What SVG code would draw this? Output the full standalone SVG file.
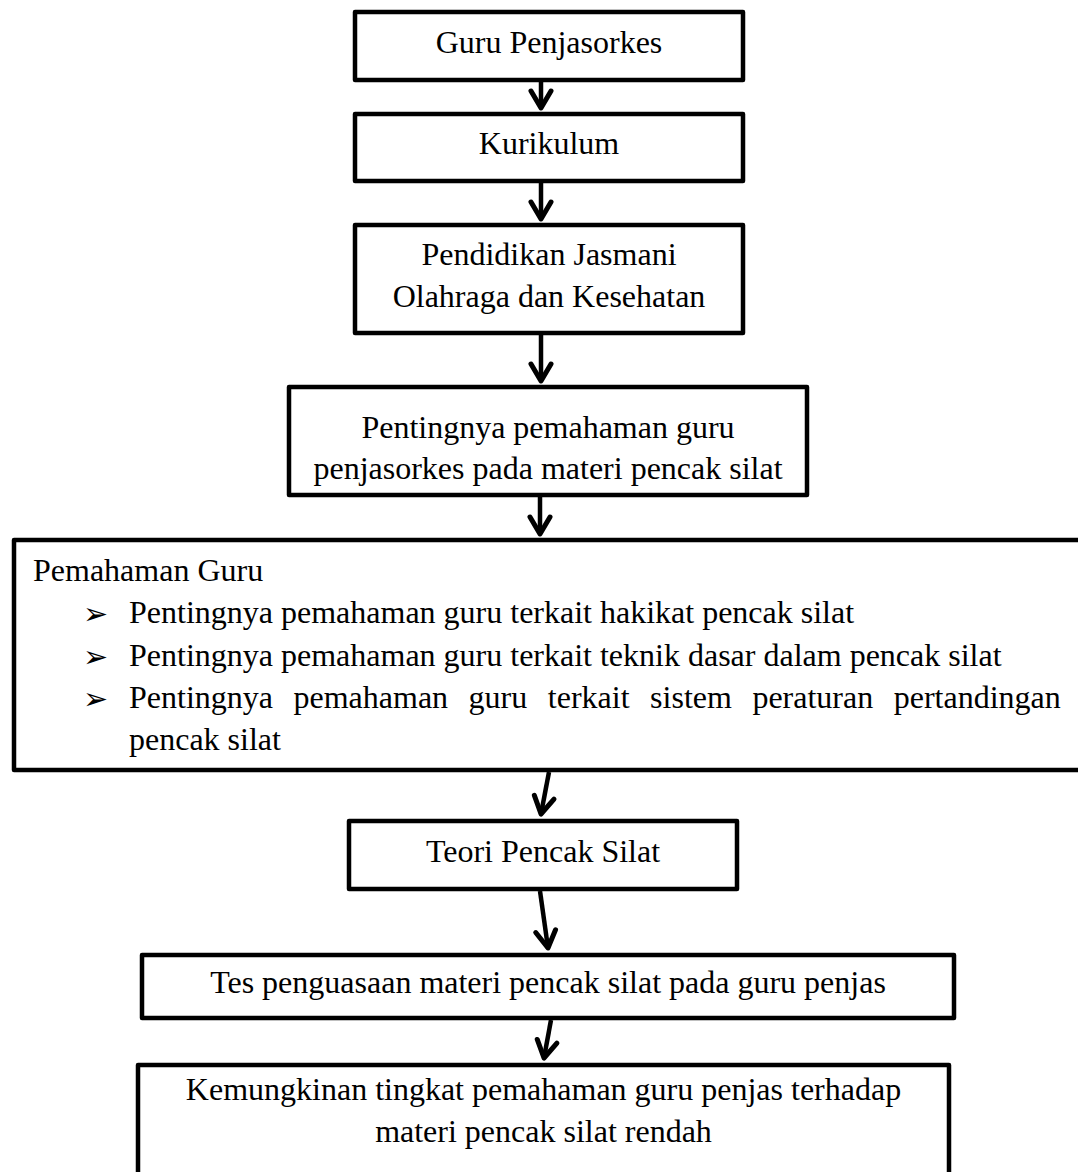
<svg xmlns="http://www.w3.org/2000/svg" width="1078" height="1172" viewBox="0 0 1078 1172">
<style>
.box{fill:#fff;stroke:#000;stroke-width:4.5;stroke-linejoin:round}
.t{font-family:"Liberation Serif","Times New Roman",serif;font-size:32px;fill:#000}
.c{text-anchor:middle}
.b{font-family:"DejaVu Sans",sans-serif;font-size:30px;fill:#000}
.con{stroke:#000;stroke-width:4.5;fill:none}
</style>
<defs>
<marker id="ah" markerUnits="userSpaceOnUse" markerWidth="40" markerHeight="40" viewBox="-30 -20 40 40" refX="0" refY="0" orient="auto">
<path d="M-17,-10 L0,0 L-17,10" fill="none" stroke="#000" stroke-width="5" stroke-linejoin="round" stroke-linecap="round"/>
</marker>
</defs>
<rect width="1078" height="1172" fill="#fff"/>
<g id="connectors">
<line class="con" x1="541" y1="82" x2="541" y2="108" marker-end="url(#ah)"/>
<line class="con" x1="541" y1="183" x2="541" y2="219" marker-end="url(#ah)"/>
<line class="con" x1="541" y1="335" x2="541" y2="381" marker-end="url(#ah)"/>
<line class="con" x1="540" y1="497" x2="540" y2="534" marker-end="url(#ah)"/>
<line class="con" x1="549" y1="772" x2="541" y2="814" marker-end="url(#ah)"/>
<line class="con" x1="540" y1="891" x2="548" y2="948" marker-end="url(#ah)"/>
<line class="con" x1="551" y1="1020" x2="544" y2="1058" marker-end="url(#ah)"/>
</g>
<g id="node-guru">
<rect class="box" x="355" y="12" width="388" height="68"/>
<text class="t c" x="549" y="53">Guru Penjasorkes</text>
</g>
<g id="node-kurikulum">
<rect class="box" x="355" y="114" width="388" height="67"/>
<text class="t c" x="549" y="154">Kurikulum</text>
</g>
<g id="node-pjok">
<rect class="box" x="355" y="225" width="388" height="108"/>
<text class="t c" x="549" y="265">Pendidikan Jasmani</text>
<text class="t c" x="549" y="307">Olahraga dan Kesehatan</text>
</g>
<g id="node-pentingnya">
<rect class="box" x="289" y="387" width="518" height="108"/>
<text class="t c" x="548" y="438">Pentingnya pemahaman guru</text>
<text class="t c" x="548" y="479">penjasorkes pada materi pencak silat</text>
</g>
<g id="node-pemahaman">
<rect class="box" x="14" y="540" width="1068" height="230"/>
<text class="t" x="33" y="581">Pemahaman Guru</text>
<text class="b" x="83" y="624">➢</text>
<text class="t" x="129" y="623">Pentingnya pemahaman guru terkait hakikat pencak silat</text>
<text class="b" x="83" y="667">➢</text>
<text class="t" x="129" y="666">Pentingnya pemahaman guru terkait teknik dasar dalam pencak silat</text>
<text class="b" x="83" y="709">➢</text>
<text class="t" y="708"><tspan x="129">Pentingnya</tspan><tspan x="293.5">pemahaman</tspan><tspan x="468.6">guru</tspan><tspan x="547.8">terkait</tspan><tspan x="650.1">sistem</tspan><tspan x="752.4">peraturan</tspan><tspan x="893.7">pertandingan</tspan></text>
<text class="t" x="129" y="750">pencak silat</text>
</g>
<g id="node-teori">
<rect class="box" x="349" y="821" width="388" height="68"/>
<text class="t c" x="543" y="862">Teori Pencak Silat</text>
</g>
<g id="node-tes">
<rect class="box" x="142" y="955" width="812" height="63"/>
<text class="t c" x="548" y="993">Tes penguasaan materi pencak silat pada guru penjas</text>
</g>
<g id="node-kemungkinan">
<rect class="box" x="138" y="1065" width="811" height="200"/>
<text class="t c" x="543.5" y="1100">Kemungkinan tingkat pemahaman guru penjas terhadap</text>
<text class="t c" x="543.5" y="1142">materi pencak silat rendah</text>
</g>
</svg>
